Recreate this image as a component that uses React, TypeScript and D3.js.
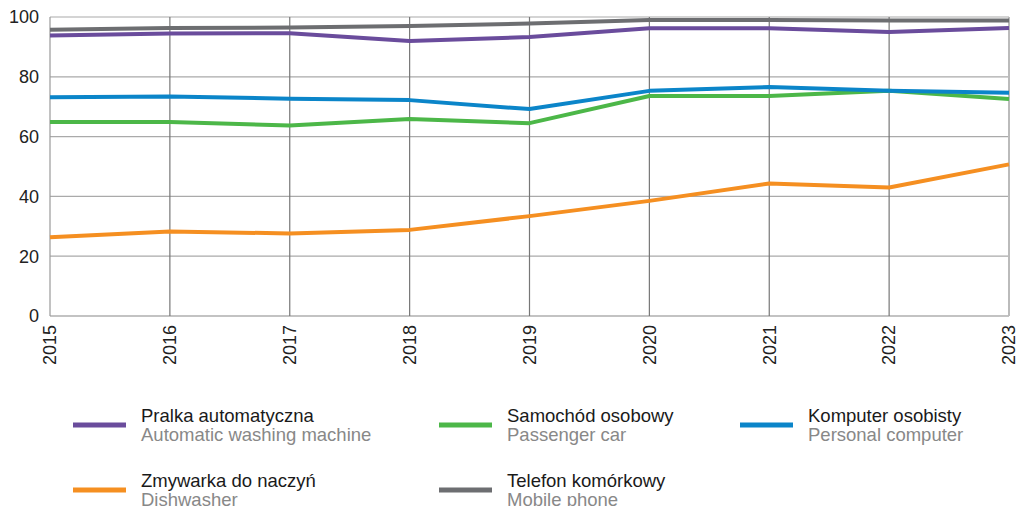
import * as d3 from "d3"

const years = ["2015", "2016", "2017", "2018", "2019", "2020", "2021", "2022", "2023"]
const yTicks = [0, 20, 40, 60, 80, 100]

const washingMachine = [93.8, 94.5, 94.6, 92.0, 93.3, 96.2, 96.2, 95.0, 96.3]
const passengerCar = [64.9, 64.9, 63.7, 65.9, 64.5, 73.6, 73.6, 75.3, 72.6]
const personalComputer = [73.2, 73.4, 72.7, 72.2, 69.2, 75.3, 76.6, 75.3, 74.7]
const dishwasher = [26.3, 28.3, 27.6, 28.8, 33.4, 38.5, 44.3, 43.0, 50.7]
const mobilePhone = [95.7, 96.3, 96.5, 97.0, 97.8, 99.0, 99.0, 98.8, 98.8]

const series = [
  { pl: "Pralka automatyczna", en: "Automatic washing machine", color: "#6a4c9c", values: washingMachine },
  { pl: "Samochód osobowy", en: "Passenger car", color: "#4cb748", values: passengerCar },
  { pl: "Komputer osobisty", en: "Personal computer", color: "#0b85c9", values: personalComputer },
  { pl: "Zmywarka do naczyń", en: "Dishwasher", color: "#f58f21", values: dishwasher },
  { pl: "Telefon komórkowy", en: "Mobile phone", color: "#6d6e71", values: mobilePhone },
]

// draw order: orange, green, blue, purple, gray on top
const drawOrder = [3, 1, 2, 0, 4]

const legendPos = [
  { x: 73, y: 0 },
  { x: 439, y: 0 },
  { x: 740, y: 0 },
  { x: 73, y: 1 },
  { x: 439, y: 1 },
]

export default function App() {
  const width = 1022
  const height = 506
  const margin = { left: 50, right: 13, top: 17, bottom: 190 }

  const x = d3
    .scalePoint<string>()
    .domain(years)
    .range([margin.left, width - margin.right])
  const y = d3
    .scaleLinear()
    .domain([0, 100])
    .range([height - margin.bottom, margin.top])

  const line = d3
    .line<number>()
    .x((_, i) => x(years[i]) as number)
    .y((d) => y(d))

  const font = "'Liberation Sans', Arial, sans-serif"

  return (
    <svg
      width={width}
      height={height}
      style={{ position: "absolute", left: 0, top: 0, fontFamily: font }}
    >
      {/* horizontal grid */}
      {yTicks.map((t) => (
        <line
          key={"h" + t}
          x1={margin.left}
          x2={width - margin.right}
          y1={y(t)}
          y2={y(t)}
          stroke={t === 0 ? "#888" : "#aaa"}
          strokeWidth={1.2}
        />
      ))}
      {/* vertical grid */}
      {years.map((yr, i) => (
        <line
          key={"v" + yr}
          x1={x(yr)}
          x2={x(yr)}
          y1={y(100)}
          y2={y(0)}
          stroke={i === 0 ? "#999" : i === years.length - 1 ? "#bbb" : "#777"}
          strokeWidth={i === years.length - 1 ? 2 : 1.2}
        />
      ))}
      {/* y labels */}
      {yTicks.map((t) => (
        <text
          key={"yl" + t}
          x={39}
          y={y(t)}
          dy="0.35em"
          textAnchor="end"
          fontSize={18}
          fill="#222"
        >
          {t}
        </text>
      ))}
      {/* x labels */}
      {years.map((yr) => (
        <text
          key={"xl" + yr}
          transform={`translate(${x(yr)},${y(0) + 9}) rotate(-90)`}
          dy="0.35em"
          textAnchor="end"
          fontSize={18}
          fill="#222"
        >
          {yr}
        </text>
      ))}
      {/* lines */}
      {drawOrder.map((si) => (
        <path
          key={"s" + si}
          d={line(series[si].values) ?? ""}
          fill="none"
          stroke={series[si].color}
          strokeWidth={4}
          strokeLinejoin="round"
        />
      ))}
      {/* legend */}
      {series.map((s, i) => {
        const p = legendPos[i]
        const baseY = p.y === 0 ? 422 : 487
        return (
          <g key={"lg" + i}>
            <line
              x1={p.x}
              x2={p.x + 53}
              y1={baseY + 3}
              y2={baseY + 3}
              stroke={s.color}
              strokeWidth={5}
            />
            <text x={p.x + 68} y={baseY} fontSize={18.5} fill="#1a1a1a">
              {s.pl}
            </text>
            <text x={p.x + 68} y={baseY + 19} fontSize={18.5} fill="#888">
              {s.en}
            </text>
          </g>
        )
      })}
    </svg>
  )
}
